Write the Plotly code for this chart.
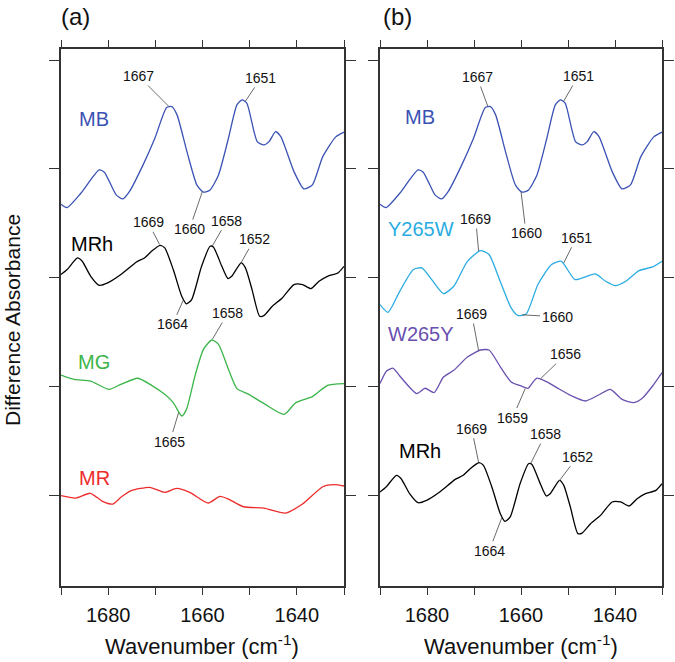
import numpy as np
import plotly.graph_objects as go

# ---------------- data (difference absorbance, arbitrary units) ----------------
mb_wn = [1690.0, 1688.7, 1685.8, 1681.9, 1680.8, 1678.3, 1676.9, 1675.5, 1672.6, 1670.1,
         1667.6, 1666.5, 1665.4, 1663.3, 1661.2, 1659.8, 1658.4, 1656.6, 1654.5, 1652.7,
         1651.6, 1650.6, 1648.4, 1647.0, 1645.9, 1644.5, 1643.4, 1640.6, 1638.5, 1636.7,
         1634.5, 1631.7, 1630.0]
mb_abs = [-0.325, -0.356, -0.224, -0.009, -0.030, -0.239, -0.276, -0.209, 0.037, 0.282,
          0.564, 0.573, 0.497, 0.159, -0.147, -0.214, -0.193, -0.055, 0.282, 0.589,
          0.635, 0.604, 0.251, 0.221, 0.251, 0.343, 0.297, -0.025, -0.184, -0.147,
          0.113, 0.297, 0.338]

mrh_wn = [1690.0, 1688.7, 1686.5, 1685.5, 1683.7, 1681.9, 1680.1, 1677.3, 1674.0, 1672.3,
          1670.8, 1669.0, 1668.0, 1666.2, 1664.4, 1663.4, 1662.3, 1660.2, 1658.4, 1657.7,
          1655.9, 1654.6, 1653.8, 1651.8, 1650.9, 1649.5, 1647.9, 1647.0, 1645.2, 1643.1,
          1640.6, 1638.8, 1637.0, 1635.3, 1633.5, 1631.3, 1630.0]
mrh_abs = [0.028, 0.074, 0.181, 0.150, 0.012, -0.071, -0.049, 0.028, 0.144, 0.181,
           0.242, 0.297, 0.273, 0.074, -0.172, -0.242, -0.202, 0.104, 0.288, 0.282,
           0.104, -0.009, 0.012, 0.135, 0.089, -0.110, -0.355, -0.350, -0.264, -0.187,
           -0.064, -0.064, -0.101, -0.034, 0.012, 0.043, 0.104]

mg_wn = [1690.0, 1687.2, 1683.7, 1679.8, 1677.3, 1673.7, 1670.8, 1668.0, 1666.2, 1664.4,
         1663.4, 1661.6, 1659.8, 1658.0, 1656.6, 1654.5, 1652.7, 1650.2, 1646.7, 1642.7,
         1640.2, 1636.7, 1633.5, 1630.0]
mg_abs = [0.104, 0.064, 0.048, -0.028, 0.018, 0.074, 0.009, -0.074, -0.150, -0.273,
          -0.212, 0.095, 0.340, 0.426, 0.386, 0.156, -0.021, -0.074, -0.166, -0.258,
          -0.150, -0.095, 0.009, 0.025]

mr_wn = [1690.0, 1686.9, 1683.8, 1681.2, 1679.0, 1677.3, 1675.1, 1671.2, 1668.0, 1665.5,
         1662.7, 1658.8, 1656.3, 1654.5, 1651.3, 1647.0, 1642.4, 1638.8, 1634.5, 1632.1,
         1630.0]
mr_abs = [-0.006, -0.028, 0.016, -0.058, -0.083, -0.021, 0.040, 0.071, 0.025, 0.061,
          0.025, -0.074, -0.012, -0.037, -0.108, -0.120, -0.166, -0.083, 0.076, 0.095,
          0.083]

y265w_wn = [1690.0, 1688.3, 1685.8, 1682.9, 1681.1, 1679.0, 1676.5, 1674.3, 1671.4, 1668.6,
            1666.8, 1664.7, 1662.1, 1660.7, 1658.9, 1656.4, 1653.5, 1651.4, 1648.5, 1644.2,
            1642.0, 1639.9, 1637.7, 1634.9, 1632.0, 1630.0]
y265w_abs = [-0.248, -0.319, -0.126, 0.074, 0.089, -0.018, -0.147, -0.080, 0.150, 0.249,
             0.212, -0.003, -0.279, -0.347, -0.334, -0.064, 0.120, 0.150, -0.018, 0.034,
             -0.034, -0.074, -0.034, 0.064, 0.098, 0.150]

w265y_wn = [1690.0, 1688.6, 1687.2, 1685.8, 1682.2, 1680.4, 1678.5, 1676.5, 1674.3, 1671.4,
            1668.6, 1666.8, 1664.3, 1662.1, 1660.0, 1658.5, 1656.7, 1654.6, 1652.4, 1649.2,
            1646.3, 1643.5, 1641.0, 1638.5, 1636.0, 1634.2, 1632.0, 1630.0]
w265y_abs = [0.025, 0.141, 0.166, 0.095, -0.067, -0.018, -0.058, 0.085, 0.147, 0.269,
             0.334, 0.334, 0.172, 0.040, 0.003, -0.018, 0.074, 0.043, -0.012, -0.089,
             -0.135, -0.080, -0.028, -0.120, -0.150, -0.110, 0.003, 0.126]

x_tickvals = [1680, 1660, 1640]
x_ticktext = ["1680", "1660", "1640"]
x_minor_dtick = 10
y_tickvals = [0, 1, 2, 3, 4]

# panel, name, wn, abs, offset, colour, label position (wn, y)
series = [
    ("a", "MB", mb_wn, mb_abs, 3, "#3A52B4", (1682.95, 3.46)),
    ("a", "MRh", mrh_wn, mrh_abs, 2, "#000000", (1683.4, 2.31)),
    ("a", "MG", mg_wn, mg_abs, 1, "#3BB54A", (1682.95, 1.22)),
    ("a", "MR", mr_wn, mr_abs, 0, "#EE2B2B", (1682.95, 0.156)),
    ("b", "MB", mb_wn, mb_abs, 3, "#3A52B4", (1681.4, 3.48)),
    ("b", "Y265W", y265w_wn, y265w_abs, 2, "#2AACE2", (1681.2, 2.45)),
    ("b", "W265Y", w265y_wn, w265y_abs, 1, "#6A50B0", (1681.2, 1.48)),
    ("b", "MRh", mrh_wn, mrh_abs, 0, "#000000", (1681.4, 0.405)),
]

# peak labels: panel, series key, wavenumber, (ax, ay) pixel offsets
peak_labels = [
    ("a", "MB", 1667, -31, -31), ("a", "MB", 1651, 16, -24), ("a", "MB", 1660, -13, 38),
    ("a", "MRh", 1669, -12, -23), ("a", "MRh", 1658, 15, -26), ("a", "MRh", 1652, 14, -25),
    ("a", "MRh", 1664, -11, 25),
    ("a", "MG", 1658, 16, -27), ("a", "MG", 1665, -9, 30),
    ("b", "MB", 1667, -11, -30), ("b", "MB", 1651, 15, -26), ("b", "MB", 1660, 5, 42),
    ("b", "Y265W", 1669, -3, -33), ("b", "Y265W", 1651, 13, -26), ("b", "Y265W", 1660, 36, 2),
    ("b", "W265Y", 1669, -7, -37), ("b", "W265Y", 1656, 26, -25), ("b", "W265Y", 1659, -13, 30),
    ("b", "MRh", 1669, -7, -34), ("b", "MRh", 1658, 15, -30), ("b", "MRh", 1652, 19, -25),
    ("b", "MRh", 1664, -13, 34),
]

FONT = "Liberation Sans, Arial, sans-serif"
W, H = 675, 662

fig = go.Figure()
lookup = {}
for panel, name, wn, ab, off, col, lab in series:
    xa = "x" if panel == "a" else "x2"
    ya = "y" if panel == "a" else "y2"
    yv = [v + off for v in ab]
    lookup[(panel, name)] = (wn, yv)
    fig.add_trace(go.Scatter(x=wn, y=yv, mode="lines", xaxis=xa, yaxis=ya,
                             line=dict(color=col, width=1.3, shape="spline", smoothing=0.6),
                             showlegend=False, hoverinfo="skip"))
    fig.add_annotation(x=lab[0], y=lab[1], xref=xa, yref=ya, text=name, showarrow=False,
                       xanchor="center", yanchor="middle",
                       font=dict(family=FONT, size=20, color=col))

for panel, name, wv, ax, ay in peak_labels:
    wn, yv = lookup[(panel, name)]
    yy = float(np.interp(wv, wn[::-1], yv[::-1]))
    xa = "x" if panel == "a" else "x2"
    ya = "y" if panel == "a" else "y2"
    fig.add_annotation(x=wv, y=yy, xref=xa, yref=ya, text=str(wv), showarrow=True,
                       arrowhead=0, arrowwidth=0.8, arrowcolor="#444444", ax=ax, ay=ay,
                       standoff=1, font=dict(family=FONT, size=14, color="#111111"))

axis_common = dict(showgrid=False, zeroline=False, showline=True, linecolor="#333333",
                   linewidth=1.5, mirror="allticks", ticks="outside", tickcolor="#333333",
                   tickwidth=1.3)
xcommon = dict(axis_common, range=[1690, 1630], tickmode="array", tickvals=x_tickvals,
               ticktext=x_ticktext, ticklen=7, ticklabelstandoff=3,
               minor=dict(dtick=x_minor_dtick, tick0=1630, ticks="outside", ticklen=7,
                          tickcolor="#333333", tickwidth=1.3, showgrid=False),
               tickfont=dict(family=FONT, size=20, color="#111111"))
ycommon = dict(axis_common, range=[-0.837, 4.103], tickmode="array", tickvals=y_tickvals,
               showticklabels=False, ticklen=10)

yd = [(H - 586) / H, (H - 49) / H]
fig.update_layout(
    width=W, height=H, margin=dict(l=0, r=0, t=0, b=0),
    paper_bgcolor="white", plot_bgcolor="white",
    xaxis=dict(xcommon, domain=[61 / W, 344 / W], anchor="y"),
    yaxis=dict(ycommon, domain=yd, anchor="x"),
    xaxis2=dict(xcommon, domain=[380 / W, 662 / W], anchor="y2"),
    yaxis2=dict(ycommon, domain=yd, anchor="x2"),
)

# titles
def paper_text(px, py, txt, size, angle=0):
    fig.add_annotation(x=px / W, y=1 - py / H, xref="paper", yref="paper", text=txt,
                       showarrow=False, xanchor="center", yanchor="middle", textangle=angle,
                       font=dict(family=FONT, size=size, color="#111111"))

paper_text(75, 16, "(a)", 24)
paper_text(397, 16, "(b)", 24)
paper_text(202, 645, "Wavenumber (cm<sup>-1</sup>)", 22)
paper_text(521, 645, "Wavenumber (cm<sup>-1</sup>)", 22)
paper_text(12, 320, "Difference Absorbance", 21, -90)

fig.write_html("out.html", config={"displayModeBar": False},
               post_script="document.body.style.margin='0px';")
